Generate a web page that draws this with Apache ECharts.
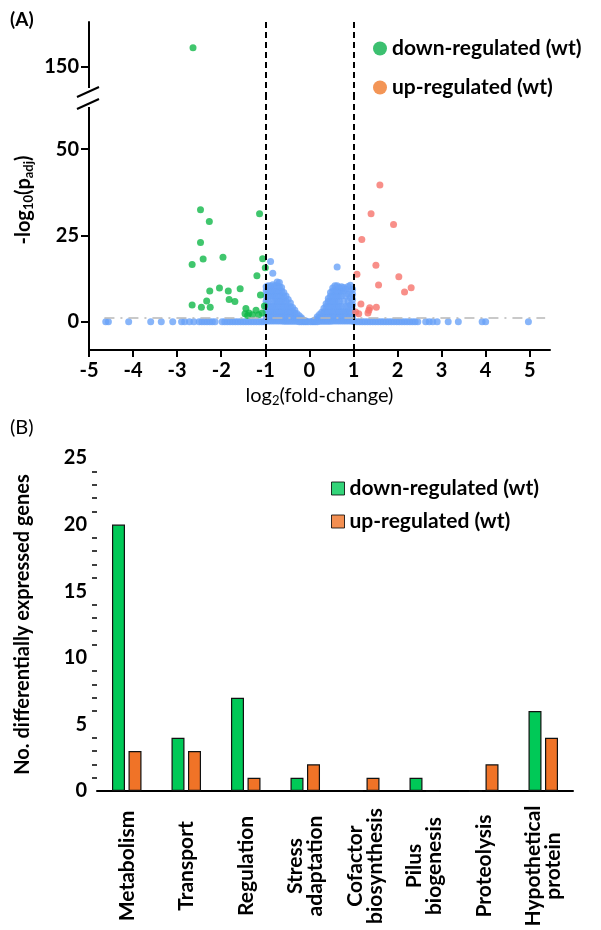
<!DOCTYPE html>
<html>
<head>
<meta charset="utf-8">
<script src="https://cdn.jsdelivr.net/npm/echarts@6/dist/echarts.min.js"></script>
<style>
  html, body { margin: 0; padding: 0; background: #fff; }
  #main { width: 601px; height: 930px; }
</style>
</head>
<body>
<div id="main"></div>
<script>
// panel A ticks
const xTicks = [-5, -4, -3, -2, -1, 0, 1, 2, 3, 4, 5];
const yTicksLow = [0, 25, 50];
const yTicksHigh = [150];
const fcCut = [-1, 1];
const padjCut = 1.3;

// down-regulated (green)
const downTop = [[-2.64, 155.5]];
const downPts = [
  [-2.47, 32.5], [-2.27, 29.1], [-2.47, 23.0], [-2.41, 18.2], [-2.66, 16.6],
  [-1.96, 18.7], [-1.13, 31.3], [-1.06, 18.3], [-1.0, 15.7], [-1.19, 13.4],
  [-2.26, 9.0], [-2.04, 9.8], [-1.84, 9.0], [-1.57, 9.6], [-1.82, 6.5],
  [-1.69, 5.9], [-2.33, 6.1], [-2.66, 4.9], [-2.45, 4.3], [-2.25, 4.3],
  [-1.11, 7.8], [-1.02, 4.6], [-1.44, 3.9], [-1.37, 2.6], [-1.46, 2.4],
  [-1.21, 3.4], [-1.15, 2.1], [-1.29, 2.1], [-1.07, 2.6], [-1.40, 1.9]
];
// up-regulated (red)
const upPts = [
  [1.60, 39.6], [1.40, 31.3], [1.91, 28.2], [1.19, 23.9], [1.51, 16.4],
  [1.08, 13.8], [2.03, 13.1], [1.57, 10.7], [2.31, 9.9], [2.16, 8.7],
  [1.17, 5.2], [1.52, 4.3], [1.37, 4.1], [1.35, 3.4], [1.33, 2.6],
  [1.12, 2.4], [1.05, 2.9]
];
// not significant (blue): columns of [log2FC, [ -log10 padj ... ]]
const nsCols = [
  [-0.98, [0.3, 1.5, 3, 4.5, 6, 7.5, 9, 10.2]],
  [-0.93, [0.3, 1.5, 3, 4.5, 6, 7.5, 9, 10.5]],
  [-0.88, [0.3, 1.5, 3, 4.5, 7.5, 9, 10.4]],
  [-0.83, [0.3, 1.5, 3, 4.5, 6, 7.5, 9, 10.8]],
  [-0.78, [0.3, 1.5, 3, 4.5, 6, 7.5, 9, 10.5]],
  [-0.73, [0.3, 1.5, 3, 4.5, 6, 7.5, 9, 10.5, 11.6]],
  [-0.68, [0.3, 1.5, 3, 4.5, 6, 7.5, 9, 10.3, 11.4]],
  [-0.63, [0.3, 1.5, 3, 4.5, 6, 7.5, 9, 10]],
  [-0.58, [0.2, 1.5, 3, 4.5, 6, 7.5, 8.5]],
  [-0.53, [0.2, 1.5, 3, 4.5, 6, 7.5]],
  [-0.48, [0.2, 1.5, 3, 4.5, 6.5]],
  [-0.43, [0.2, 1.5, 3, 4.5, 5.5]],
  [-0.38, [0.2, 1.5, 3, 4.2]],
  [-0.33, [0.2, 1.3, 2.5, 3.4]],
  [-0.28, [0.2, 1.2, 2.4]],
  [-0.23, [0.1, 1, 1.8]],
  [-0.18, [0.1, 0.8, 1.2]],
  [-0.13, [0.1, 0.5]],
  [-0.08, [0.1, 0.3]],
  [-0.03, [0.05]],
  [0.03, [0.05]],
  [0.08, [0.1, 0.3]],
  [0.13, [0.1, 0.6]],
  [0.18, [0.1, 0.9, 1.5]],
  [0.23, [0.2, 1.2, 2.2]],
  [0.28, [0.2, 1.5, 2.8]],
  [0.33, [0.2, 1.5, 3, 4]],
  [0.38, [0.2, 1.5, 3, 4.5, 5.3]],
  [0.43, [0.2, 1.5, 3, 4.5, 6, 6.8]],
  [0.48, [0.2, 1.5, 3, 4.5, 6, 7.5, 8.5]],
  [0.53, [0.3, 1.5, 3, 4.5, 6, 7.5, 9, 9.8]],
  [0.58, [0.3, 1.5, 3, 4.5, 6, 7.5, 9, 10.5]],
  [0.63, [0.3, 1.5, 3, 4.5, 6, 7.5, 9, 10.5]],
  [0.68, [0.3, 1.5, 3, 4.5, 6, 7.5, 9, 10]],
  [0.73, [0.3, 1.5, 3, 4.5, 7.5, 9, 10.2]],
  [0.78, [0.3, 1.5, 3, 6, 9, 10]],
  [0.83, [0.3, 1.5, 3, 4.5, 7.5, 9.5]],
  [0.88, [0.3, 1.5, 3, 4.5, 6, 8, 10.3]],
  [0.93, [0.3, 1.5, 3, 5, 7, 9, 10.6]],
  [0.98, [0.3, 1.5, 3.5, 5, 6.5, 8, 9.5]]
];
const nsOutliers = [[-0.88, 17.5], [-0.83, 14.1], [0.63, 15.9]];
// blue genes lying on the baseline outside |log2FC| > 1
const nsBaseX = [
  -4.62, -4.56, -4.1, -3.6, -3.36, -3.1, -2.9, -2.83, -2.72, -2.62, -2.5, -2.44,
  -2.38, -2.32, -2.26, -2.2, -2.14, -1.98, -1.92, -1.86, -1.8, -1.74, -1.68,
  -1.62, -1.56, -1.5, -1.44, -1.38, -1.32, -1.26, -1.2, -1.14, -1.08, -1.02,
  1.02, 1.08, 1.14, 1.2, 1.26, 1.32, 1.38, 1.44, 1.5, 1.56, 1.62, 1.68, 1.74,
  1.8, 1.86, 1.92, 1.98, 2.04, 2.1, 2.16, 2.22, 2.28, 2.34, 2.4, 2.46, 2.64,
  2.72, 2.8, 2.9, 3.15, 3.38, 3.92, 4.0, 4.97
];
const nsBaseY = 0.1;

// panel B
const categories = ['Metabolism', 'Transport', 'Regulation', 'Stress\nadaptation',
  'Cofactor\nbiosynthesis', 'Pilus\nbiogenesis', 'Proteolysis', 'Hypothetical\nprotein'];
const downCounts = [20, 4, 7, 1, 0, 1, 0, 6];
const upCounts = [3, 3, 1, 2, 1, 0, 2, 4];

const FONT = 'Lato';
const GREEN_PT = '#10b848';
const RED_PT = '#f6736b';
const BLUE_PT = '#6aa2f8';
const GREEN_BAR = '#00c957';
const ORANGE_BAR = '#f07327';

let nsPts = [];
nsCols.forEach(function (c) {
  c[1].forEach(function (y) { nsPts.push([c[0], y]); });
});
nsPts = nsPts.concat(nsOutliers);
nsBaseX.forEach(function (x) { nsPts.push([x, nsBaseY]); });

const chart = echarts.init(document.getElementById('main'), null, { renderer: 'canvas' });

const axisBlack = { onZero: false, lineStyle: { color: '#000', width: 2 } };
const tickLbl = { color: '#000', fontFamily: FONT, fontWeight: 'bold', fontSize: 20 };
const dashStyle = { color: '#000', width: 2, type: [6, 4] };

const option = {
  animation: false,
  backgroundColor: '#fff',
  grid: [
    { left: 89, top: 22, width: 461, height: 76 },
    { left: 89, top: 98, width: 461, height: 252 },
    { left: 97, top: 458, width: 476, height: 333 }
  ],
  legend: [
    {
      left: 368, top: 33, orient: 'vertical', itemGap: 18, itemWidth: 14, itemHeight: 14,
      selectedMode: false,
      textStyle: { color: '#000', fontFamily: FONT, fontWeight: 'bold', fontSize: 21 },
      data: [
        { name: 'down-regulated (wt)', icon: 'circle', itemStyle: { color: '#0bb04c' } },
        { name: 'up-regulated (wt)', icon: 'circle', itemStyle: { color: '#f07a2c' } }
      ]
    },
    {
      left: 326, top: 473, orient: 'vertical', itemGap: 12, itemWidth: 13, itemHeight: 13,
      selectedMode: false,
      textStyle: { color: '#000', fontFamily: FONT, fontWeight: 'bold', fontSize: 21 },
      data: [
        { name: 'down-regulated (wt)', icon: 'rect', itemStyle: { color: GREEN_BAR, borderColor: '#000', borderWidth: 1 } },
        { name: 'up-regulated (wt)', icon: 'rect', itemStyle: { color: ORANGE_BAR, borderColor: '#000', borderWidth: 1 } }
      ]
    }
  ],
  xAxis: [
    { gridIndex: 0, type: 'value', min: -5, max: 5.46, show: false },
    {
      gridIndex: 1, type: 'value', min: -5, max: 5.46,
      axisLine: axisBlack,
      axisTick: { customValues: xTicks, length: 7, lineStyle: { color: '#000', width: 2 } },
      axisLabel: Object.assign({ customValues: xTicks, margin: 11 }, tickLbl),
      splitLine: { show: false },
      name: '{t|log}{s|2}{t|(fold-change)}',
      nameLocation: 'middle', nameGap: 34,
      nameTextStyle: {
        rich: {
          t: { fontFamily: FONT, fontSize: 20, color: '#000' },
          s: { fontFamily: FONT, fontSize: 13, color: '#000', padding: [10, 0, 0, 0] }
        }
      }
    },
    {
      gridIndex: 2, type: 'category', data: categories,
      axisLine: axisBlack,
      axisTick: { length: 7, lineStyle: { color: '#000', width: 2 } },
      axisLabel: {
        interval: 0, rotate: 90, align: 'center', verticalAlign: 'middle', margin: 75,
        color: '#000', fontFamily: FONT, fontWeight: 'bold', fontSize: 21, lineHeight: 20
      }
    }
  ],
  yAxis: [
    {
      gridIndex: 0, type: 'value', min: 141.1, max: 162.9,
      axisLine: axisBlack,
      axisTick: { customValues: yTicksHigh, length: 8, lineStyle: { color: '#000', width: 2 } },
      axisLabel: Object.assign({ customValues: yTicksHigh, margin: 10 }, tickLbl),
      splitLine: { show: false }
    },
    {
      gridIndex: 1, type: 'value', min: -8.1, max: 64.8,
      axisLine: axisBlack,
      axisTick: { customValues: yTicksLow, length: 8, lineStyle: { color: '#000', width: 2 } },
      axisLabel: Object.assign({ customValues: yTicksLow, margin: 10 }, tickLbl),
      splitLine: { show: false }
    },
    {
      gridIndex: 2, type: 'value', min: 0, max: 25, interval: 5,
      axisLine: axisBlack,
      axisTick: { length: 7, lineStyle: { color: '#000', width: 2 } },
      minorTick: { show: true, splitNumber: 5, length: 5, lineStyle: { color: '#000', width: 1.5 } },
      axisLabel: Object.assign({ margin: 10 }, tickLbl),
      splitLine: { show: false },
      name: 'No. differentially expressed genes',
      nameLocation: 'middle', nameGap: 64,
      nameTextStyle: { color: '#000', fontFamily: FONT, fontWeight: 'bold', fontSize: 20 }
    }
  ],
  series: [
    {
      type: 'scatter', name: 'ns', xAxisIndex: 1, yAxisIndex: 1,
      symbolSize: 7, itemStyle: { color: BLUE_PT }, data: nsPts, z: 2,
      markLine: {
        silent: true, symbol: 'none', label: { show: false },
        data: [
          { xAxis: fcCut[0], lineStyle: dashStyle },
          { xAxis: fcCut[1], lineStyle: dashStyle },
          [
            { coord: [-4.65, padjCut], lineStyle: { color: '#b8b8b8', width: 1.6, type: [10, 6, 2, 6] } },
            { coord: [5.35, padjCut] }
          ]
        ]
      }
    },
    {
      type: 'scatter', name: 'down-regulated (wt)', xAxisIndex: 1, yAxisIndex: 1,
      symbolSize: 7, itemStyle: { color: GREEN_PT }, data: downPts, z: 3
    },
    {
      type: 'scatter', name: 'up-regulated (wt)', xAxisIndex: 1, yAxisIndex: 1,
      symbolSize: 7, itemStyle: { color: RED_PT }, data: upPts, z: 3
    },
    {
      type: 'scatter', name: 'down-regulated (wt)', xAxisIndex: 0, yAxisIndex: 0,
      symbolSize: 7, itemStyle: { color: GREEN_PT }, data: downTop, z: 3,
      markLine: {
        silent: true, symbol: 'none', label: { show: false },
        data: fcCut.map(function (v) { return { xAxis: v, lineStyle: dashStyle }; })
      }
    },
    {
      type: 'bar', name: 'down-regulated (wt)', xAxisIndex: 2, yAxisIndex: 2,
      data: downCounts, barWidth: 13, barGap: '27%',
      itemStyle: { color: GREEN_BAR, borderColor: '#111', borderWidth: 1.2 }
    },
    {
      type: 'bar', name: 'up-regulated (wt)', xAxisIndex: 2, yAxisIndex: 2,
      data: upCounts, barWidth: 13, barGap: '27%',
      itemStyle: { color: ORANGE_BAR, borderColor: '#111', borderWidth: 1.2 }
    }
  ],
  graphic: [
    { type: 'text', left: 10, top: 10, style: { text: '(A)', font: 'bold 19px Lato', fill: '#000' } },
    { type: 'text', left: 10, top: 418, style: { text: '(B)', font: '20px Lato', fill: '#000' } },
    // axis break on the y axis of panel A
    { type: 'rect', z: 100, shape: { x: 84, y: 88, width: 10, height: 19 }, style: { fill: '#fff' } },
    { type: 'line', z: 101, shape: { x1: 77, y1: 97, x2: 99, y2: 87 }, style: { stroke: '#000', lineWidth: 2 } },
    { type: 'line', z: 101, shape: { x1: 77, y1: 109, x2: 99, y2: 99 }, style: { stroke: '#000', lineWidth: 2 } },
    {
      type: 'text', x: 24, y: 200, rotation: Math.PI / 2, z: 100,
      style: {
        text: '{t|-log}{s|10}{t|(p}{s|adj}{t|)}',
        align: 'center', verticalAlign: 'middle',
        rich: {
          t: { fontFamily: FONT, fontWeight: 'bold', fontSize: 20, fill: '#000' },
          s: { fontFamily: FONT, fontWeight: 'bold', fontSize: 13, fill: '#000', padding: [10, 0, 0, 0] }
        }
      }
    }
  ]
};

chart.setOption(option);
</script>
</body>
</html>
